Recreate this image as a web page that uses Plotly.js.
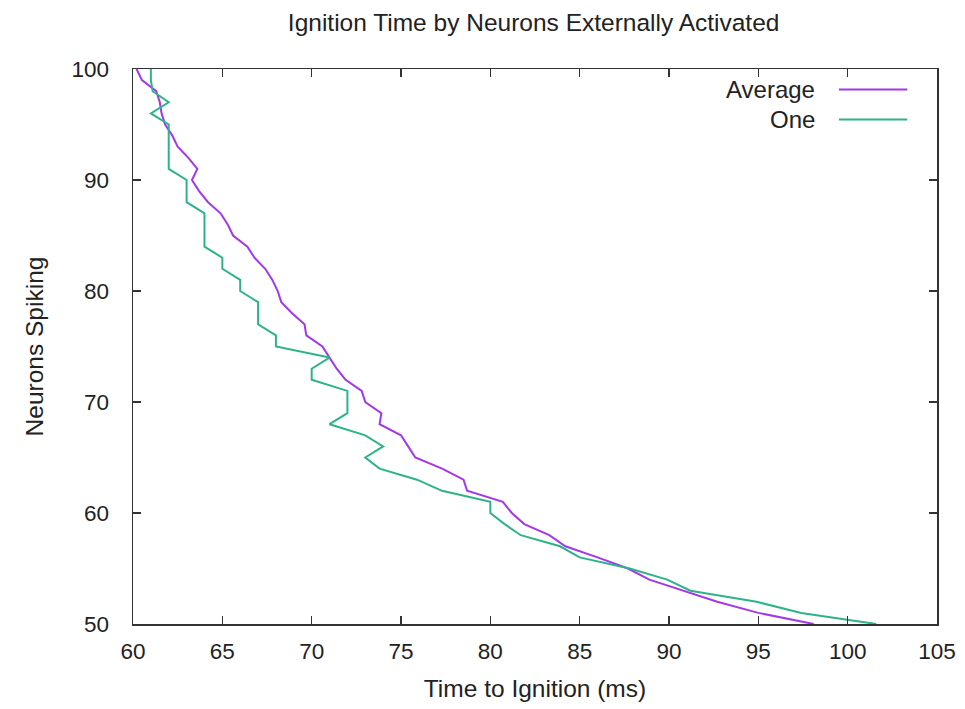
<!DOCTYPE html>
<html>
<head>
<meta charset="utf-8">
<script src="https://cdn.plot.ly/plotly-3.0.1.min.js"></script>
<style>html,body{margin:0;padding:0;background:#fff;}#chart{width:965px;height:709px;}</style>
</head>
<body>
<div id="chart"></div>
<script>
// Neurons spiking levels (y) from 100 down to 50
const neurons = [100,99,98,97,96,95,94,93,92,91,90,89,88,87,86,85,84,83,82,81,80,79,78,77,76,75,74,73,72,71,70,69,68,67,66,65,64,63,62,61,60,59,58,57,56,55,54,53,52,51,50];
// Time to ignition (ms), average over runs
const averageTime = [60.2,60.5,61.3,61.5,61.6,61.8,62.2,62.5,63.1,63.6,63.3,63.7,64.2,64.9,65.3,65.6,66.4,66.8,67.4,67.8,68.1,68.3,68.9,69.6,69.7,70.6,71.0,71.4,71.9,72.8,73.0,73.9,73.8,75.0,75.4,75.8,77.3,78.5,78.7,80.7,81.2,81.9,83.3,84.2,86.0,87.7,88.9,90.8,92.7,95.0,98.1];
// Time to ignition (ms), single run
const oneTime = [61.0,61.0,61.1,62.0,61.0,62.0,62.0,62.0,62.0,62.0,63.0,63.0,63.0,64.0,64.0,64.0,64.0,65.0,65.0,66.0,66.0,67.0,67.0,67.0,68.0,68.0,71.0,70.0,70.0,72.0,72.0,72.0,71.0,73.0,74.0,73.0,73.8,75.9,77.3,80.0,80.0,80.8,81.7,83.9,85.0,87.8,89.9,91.2,94.9,97.4,101.6];
const seriesNames = ["Average","One"];
const seriesColors = ["#a238ea","#2db38a"];
const xTicks = [60,65,70,75,80,85,90,95,100,105];
const yTicks = [50,60,70,80,90,100];

const font = "Liberation Sans, Arial, sans-serif";
const traces = [
  {x: averageTime, y: neurons, name: seriesNames[0], mode: "lines", line: {color: seriesColors[0], width: 2}, showlegend: false},
  {x: oneTime, y: neurons, name: seriesNames[1], mode: "lines", line: {color: seriesColors[1], width: 2}, showlegend: false}
];

// custom gnuplot-style legend: text then sample line
const annotations = [];
const shapes = [];
const legY = [0.963, 0.909];
seriesNames.forEach((n, i) => {
  annotations.push({xref: "paper", yref: "paper", x: 0.851, y: legY[i], text: n, showarrow: false,
    xanchor: "right", yanchor: "middle", font: {family: font, size: 24, color: "#222"}});
  shapes.push({type: "line", xref: "paper", yref: "paper", x0: 0.878, x1: 0.963, y0: legY[i], y1: legY[i],
    line: {color: seriesColors[i], width: 2}});
});

const axisCommon = {
  showgrid: false, zeroline: false, showline: true, linecolor: "#333", linewidth: 1.5,
  mirror: "ticks", ticks: "inside", ticklen: 8, tickwidth: 1.5, tickcolor: "#333",
  tickfont: {family: font, size: 22.5, color: "#222"}
};

const layout = {
  width: 965, height: 709,
  margin: {l: 133, r: 28, t: 69, b: 85},
  paper_bgcolor: "#fff", plot_bgcolor: "#fff",
  title: {text: "Ignition Time by Neurons Externally Activated", x: 0.553, xanchor: "center", y: 0.969, yanchor: "middle",
    font: {family: font, size: 24.5, color: "#222"}},
  xaxis: Object.assign({}, axisCommon, {range: [60, 105], tickvals: xTicks, ticktext: xTicks.map(String),
    ticklabelstandoff: 6,
    title: {text: "Time to Ignition (ms)", font: {family: font, size: 24.5, color: "#222"}, standoff: 17}}),
  yaxis: Object.assign({}, axisCommon, {range: [50, 100], tickvals: yTicks, ticktext: yTicks.map(String),
    ticklabelstandoff: 18,
    title: {text: "Neurons Spiking", font: {family: font, size: 24.5, color: "#222"}, standoff: 21}}),
  annotations: annotations,
  shapes: shapes
};

Plotly.newPlot("chart", traces, layout, {displayModeBar: false, staticPlot: true});
</script>
</body>
</html>
